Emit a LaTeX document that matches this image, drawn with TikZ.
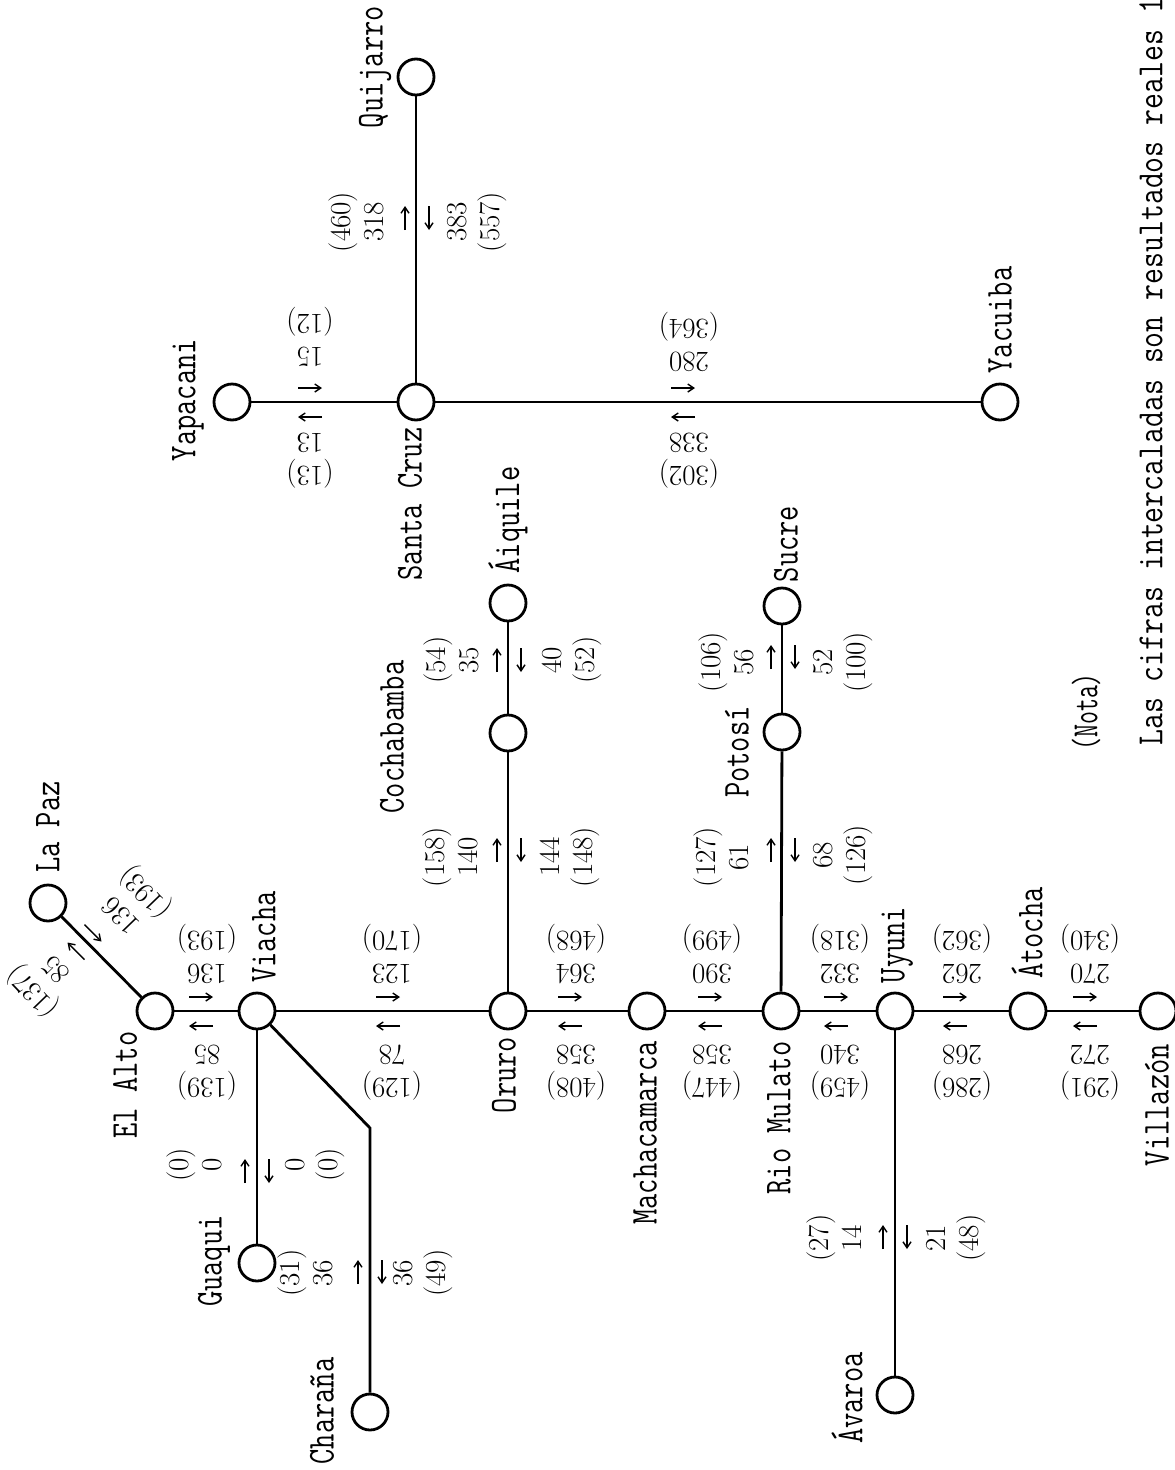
\documentclass[tikz,border=0pt]{standalone}
\usepackage{graphicx}
\usetikzlibrary{arrows.meta}
\newcommand\nmtxt[1]{\scalebox{0.78}[1]{#1}}
\newcommand\vflow[2]{%
  \draw[flow] (#1-11,#2+12) -- ++(0,-24);
  \draw[flow] (#1+13,#2-12) -- ++(0,24);}
\newcommand\hflow[2]{%
  \draw[flow] (#1-12,#2-14) -- ++(24,0);
  \draw[flow] (#1+12,#2+15) -- ++(-24,0);}
\tikzset{
  stn/.style={circle, draw, line width=2.8pt, minimum size=36pt, inner sep=0pt},
  rail/.style={line width=2.8pt},
  sname/.style={font=\fontsize{38}{40}\selectfont\ttfamily, rotate=90, inner sep=0pt},
  notefont/.style={font=\fontsize{37}{40}\selectfont\ttfamily, rotate=90, inner sep=0pt, anchor=west},
  num/.style={font=\fontsize{29}{33}\selectfont, align=center, inner sep=0pt},
  numh/.style={num, rotate=180},
  numv/.style={num, rotate=90},
  numd/.style={num, rotate=134},
  flow/.style={line width=1.4pt, -{Straight Barb[length=6pt,width=8pt]}},
}
\begin{document}
\begin{tikzpicture}[x=1pt,y=-1pt]
\useasboundingbox (0,0) rectangle (1175,1470);
\fill[white] (0,0) rectangle (1175,1470);
% ---------- stations
\node[stn] (lapaz)     at (48,903)  {};
\node[stn] (elalto)    at (155,1011) {};
\node[stn] (viacha)    at (257,1011) {};
\node[stn] (oruro)     at (508,1011) {};
\node[stn] (mach)      at (647,1011) {};
\node[stn] (riom)      at (781,1011) {};
\node[stn] (uyuni)     at (895,1011) {};
\node[stn] (atocha)    at (1028,1011) {};
\node[stn] (villazon)  at (1158,1011) {};
\node[stn] (guaqui)    at (257,1263) {};
\node[stn] (charana)   at (370,1412) {};
\node[stn] (coch)      at (508,733) {};
\node[stn] (aiquile)   at (508,603) {};
\node[stn] (potosi)    at (782,732) {};
\node[stn] (sucre)     at (782,606) {};
\node[stn] (avaroa)    at (895,1395) {};
\node[stn] (santacruz) at (416,402) {};
\node[stn] (yapacani)  at (232,402) {};
\node[stn] (quijarro)  at (416,77)  {};
\node[stn] (yacuiba)   at (1000,402) {};
\coordinate (bend) at (370,1128);
% ---------- rails
\draw[rail] (elalto) -- (lapaz);
\draw[rail] (elalto) -- (viacha);
\draw[rail] (viacha) -- (oruro);
\draw[rail] (oruro) -- (mach);
\draw[rail] (mach) -- (riom);
\draw[rail] (riom) -- (uyuni);
\draw[rail] (uyuni) -- (atocha);
\draw[rail] (atocha) -- (villazon);
\draw[rail] (viacha) -- (guaqui);
\draw[rail] (viacha) -- (bend) -- (charana);
\draw[rail] (oruro) -- (coch);
\draw[rail] (coch) -- (aiquile);
\draw[rail] (riom) -- (potosi);
\draw[rail] (potosi) -- (sucre);
\draw[rail] (uyuni) -- (avaroa);
\draw[rail] (yapacani) -- (santacruz);
\draw[rail] (santacruz) -- (yacuiba);
\draw[rail] (santacruz) -- (quijarro);
% ---------- station names
\node[sname] (tlapaz)    at (48,827)   {\nmtxt{La Paz}};
\node[sname] (telalto)   at (125,1085) {\nmtxt{El Alto}};
\node[sname] (tviacha)   at (264,937)  {\nmtxt{Viacha}};
\node[sname] (toruro)    at (504,1075) {\nmtxt{Oruro}};
\node[sname] (tmach)     at (645,1133) {\nmtxt{Machacamarca}};
\node[sname] (triom)     at (779,1118) {\nmtxt{Rio Mulato}};
\node[sname] (tuyuni)    at (897,945)  {\nmtxt{Uyuni}};
\node[sname] (tatocha)   at (1027,933) {\nmtxt{Átocha}};
\node[sname] (tvillazon) at (1157,1105) {\nmtxt{Villazón}};
\node[sname] (tguaqui)   at (214,1261) {\nmtxt{Guaqui}};
\node[sname] (tcharana)  at (322,1411) {\nmtxt{Charaña}};
\node[sname] (tcoch)     at (392,737)  {\nmtxt{Cochabamba}};
\node[sname] (taiquile)  at (508,520)  {\nmtxt{Áiquile}};
\node[sname] (tsanta)    at (410,504)  {\nmtxt{Santa Cruz}};
\node[sname] (tyapacani) at (188,400)  {\nmtxt{Yapacani}};
\node[sname] (tquijarro) at (375,67)   {\nmtxt{Quijarro}};
\node[sname] (tyacuiba)  at (1000,320) {\nmtxt{Yacuiba}};
\node[sname] (tpotosi)   at (737,752)  {\nmtxt{Potosí}};
\node[sname] (tsucre)    at (786,544)  {\nmtxt{Sucre}};
\node[sname] (tavaroa)   at (847,1398) {\nmtxt{Ávaroa}};
% ---------- note
\node[notefont] (nota) at (1086,751) {\scalebox{0.68}[1]{(Nota)}};
\node[notefont] (notetext) at (1151,746) {\scalebox{0.835}[1]{Las cifras intercaladas son resultados reales 1}};
% ---------- main line figures
\node[numh] (a1) at (207,954)  {136\\(193)};
\node[numh] (b1) at (207,1073) {(139)\\85};
\hflow{201}{1011}
\node[numh] (a2) at (392,954)  {123\\(170)};
\node[numh] (b2) at (392,1073) {(129)\\78};
\hflow{388}{1011}
\node[numh] (a3) at (576,954)  {364\\(468)};
\node[numh] (b3) at (576,1073) {(408)\\358};
\hflow{570}{1011}
\node[numh] (a4) at (712,954)  {390\\(499)};
\node[numh] (b4) at (712,1073) {(447)\\358};
\hflow{710}{1011}
\node[numh] (a5) at (840,954)  {332\\(318)};
\node[numh] (b5) at (840,1073) {(459)\\340};
\hflow{836}{1011}
\node[numh] (a6) at (962,954)  {262\\(362)};
\node[numh] (b6) at (962,1073) {(286)\\268};
\hflow{955}{1011}
\node[numh] (a7) at (1090,954)  {270\\(340)};
\node[numh] (b7) at (1090,1073) {(291)\\272};
\hflow{1085}{1011}
% ---------- Santa Cruz line figures
\node[numh] (a8) at (310,337) {15\\(12)};
\node[numh] (b8) at (310,461) {(13)\\13};
\hflow{310}{402}
\node[numh] (a9) at (689,342) {280\\(364)};
\node[numh] (b9) at (689,461) {(302)\\338};
\hflow{683}{402}
% ---------- La Paz diagonal
\node[numd] (d1) at (135,902) {136\\(193)};
\node[numd] (d2) at (43,982)  {(137)\\85};
\draw[flow] (84.5,924.5) -- (101.5,941.5);
\draw[flow] (84.5,959.5) -- (67.5,942.5);
% ---------- branch figures
\node[numv] (c1) at (450,857) {(158)\\140};
\node[numv] (e1) at (570,857) {144\\(148)};
\vflow{508}{850}
\node[numv] (c2) at (451,660) {(54)\\35};
\node[numv] (e2) at (572,660) {40\\(52)};
\vflow{508}{660}
\node[numv] (c3) at (721,857) {(127)\\61};
\node[numv] (e3) at (843,855) {68\\(126)};
\vflow{782}{850}
\node[numv] (c4) at (726,662) {(106)\\56};
\node[numv] (e4) at (843,662) {52\\(100)};
\vflow{782}{657}
\node[numv] (c5) at (194,1165) {(0)\\0};
\node[numv] (e5) at (315,1165) {0\\(0)};
\vflow{256}{1171}
\node[numv] (c6) at (305,1273) {(31)\\36};
\node[numv] (e6) at (423,1273) {36\\(49)};
\vflow{369}{1272}
\node[numv] (c7) at (834,1238) {(27)\\14};
\node[numv] (e7) at (956,1238) {21\\(48)};
\vflow{894}{1237}
\node[numv] (c8) at (356,222) {(460)\\318};
\node[numv] (e8) at (477,222) {383\\(557)};
\vflow{416}{218}
\end{tikzpicture}
\end{document}
